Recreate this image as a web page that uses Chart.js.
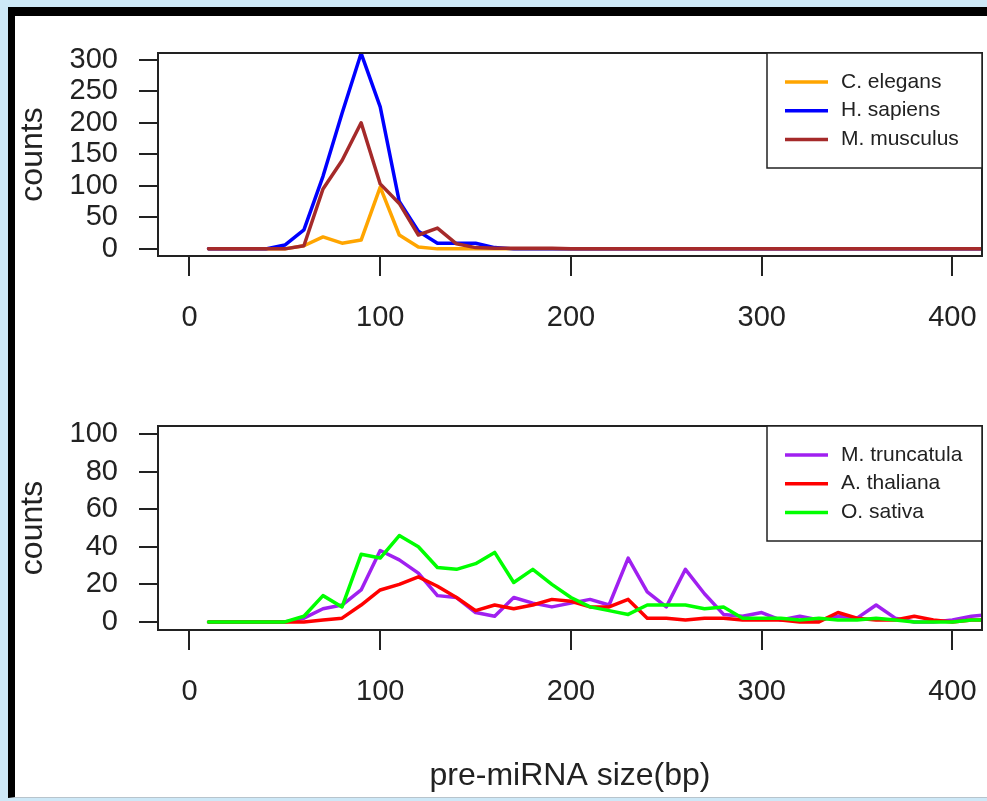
<!DOCTYPE html>
<html>
<head>
<meta charset="utf-8">
<script src="https://cdn.jsdelivr.net/npm/chart.js@4"></script>
<style>
  html, body { margin: 0; padding: 0; }
  body { width: 987px; height: 801px; background: #cde8f7; position: relative; overflow: hidden; }
  #frame {
    position: absolute; left: 8px; top: 7px; width: 990px; height: 781px;
    background: #fff; border-left: 7px solid #000; border-top: 9px solid #000;
    border-bottom: 1px solid #b8c4cc;
  }
  canvas { position: absolute; left: 0; }
  #topChart { top: 0; }
  #bottomChart { top: 373px; }
</style>
</head>
<body>
<div id="frame"></div>
<canvas id="topChart" width="987" height="373"></canvas>
<canvas id="bottomChart" width="987" height="428"></canvas>
<script>
// pre-miRNA size (bp), one point every 10 bp
const sizes = [10, 20, 30, 40, 50, 60, 70, 80, 90, 100, 110, 120, 130, 140, 150, 160, 170, 180, 190, 200,
  210, 220, 230, 240, 250, 260, 270, 280, 290, 300, 310, 320, 330, 340, 350, 360, 370, 380, 390, 400, 410, 420];

// animals
const cElegans = [0, 0, 0, 0, 0, 5, 19, 9, 14, 98, 22, 3, 0, 0, 0, 0, 0, 0, 0, 0,
  0, 0, 0, 0, 0, 0, 0, 0, 0, 0, 0, 0, 0, 0, 0, 0, 0, 0, 0, 0, 0, 0];
const hSapiens = [0, 0, 0, 0, 6, 30, 115, 215, 310, 225, 75, 28, 9, 9, 9, 2, 0, 0, 0, 0,
  0, 0, 0, 0, 0, 0, 0, 0, 0, 0, 0, 0, 0, 0, 0, 0, 0, 0, 0, 0, 0, 0];
const mMusculus = [0, 0, 0, 0, 0, 5, 95, 140, 200, 103, 72, 22, 33, 8, 2, 1, 1, 1, 1, 0,
  0, 0, 0, 0, 0, 0, 0, 0, 0, 0, 0, 0, 0, 0, 0, 0, 0, 0, 0, 0, 0, 0];

// plants
const mTruncatula = [0, 0, 0, 0, 0, 2, 7, 9, 17, 38, 33, 26, 14, 13, 5, 3, 13, 10, 8, 10,
  12, 9, 34, 16, 8, 28, 15, 4, 3, 5, 1, 3, 1, 3, 2, 9, 2, 0, 0, 1, 3, 4];
const aThaliana = [0, 0, 0, 0, 0, 0, 1, 2, 9, 17, 20, 24, 19, 13, 6, 9, 7, 9, 12, 11,
  8, 8, 12, 2, 2, 1, 2, 2, 1, 1, 1, 0, 0, 5, 2, 1, 1, 3, 1, 0, 1, 1];
const oSativa = [0, 0, 0, 0, 0, 3, 14, 8, 36, 34, 46, 40, 29, 28, 31, 37, 21, 28, 20, 13,
  8, 6, 4, 9, 9, 9, 7, 8, 2, 2, 2, 1, 2, 1, 1, 2, 1, 0, 0, 0, 1, 1];

const xTicks = [0, 100, 200, 300, 400];
const yTicksTop = [0, 50, 100, 150, 200, 250, 300];
const yTicksBottom = [0, 20, 40, 60, 80, 100];

const FONT = "'Liberation Sans', Arial, Helvetica, sans-serif";
const INK = '#222';

const toPoints = vals => sizes.map((s, i) => ({ x: s, y: vals[i] }));

const series = (label, vals, color, order) => ({
  label,
  data: toPoints(vals),
  borderColor: color,
  backgroundColor: color,
  borderWidth: 3.5,
  borderJoinStyle: 'round',
  borderCapStyle: 'round',
  pointRadius: 0,
  tension: 0,
  clip: 0,
  order
});

// plot box + R style legend in the top right corner
const boxAndLegend = {
  id: 'boxAndLegend',
  afterDraw(chart) {
    const { ctx, chartArea: a } = chart;
    ctx.save();
    ctx.strokeStyle = INK;
    ctx.lineWidth = 2;
    ctx.strokeRect(a.left, a.top, a.right - a.left, a.bottom - a.top);

    const w = 215, h = 115;
    const lx = a.right - w, ly = a.top;
    ctx.fillStyle = '#fff';
    ctx.fillRect(lx, ly, w, h);
    ctx.lineWidth = 1.5;
    ctx.strokeRect(lx, ly, w, h);

    ctx.font = '21px ' + FONT;
    ctx.textBaseline = 'middle';
    ctx.textAlign = 'left';
    chart.data.datasets.forEach((ds, i) => {
      const y = ly + 29 + i * 28.7;
      ctx.strokeStyle = ds.borderColor;
      ctx.lineWidth = 3.5;
      ctx.beginPath();
      ctx.moveTo(lx + 18, y);
      ctx.lineTo(lx + 61, y);
      ctx.stroke();
      ctx.fillStyle = INK;
      ctx.fillText(ds.label, lx + 74, y);
    });
    ctx.restore();
  }
};

function makeChart(id, datasets, yMin, yMax, yTicks, xAxisHeight, showXTitle) {
  return new Chart(document.getElementById(id), {
    type: 'line',
    data: { datasets },
    plugins: [boxAndLegend],
    options: {
      responsive: false,
      animation: false,
      devicePixelRatio: 1,
      layout: { padding: { top: 53, right: 5, left: 0, bottom: 0 } },
      plugins: { legend: { display: false }, tooltip: { enabled: false } },
      scales: {
        x: {
          type: 'linear',
          min: -16.5,
          max: 415.5,
          afterBuildTicks: s => { s.ticks = xTicks.map(v => ({ value: v })); },
          afterFit: s => { s.height = xAxisHeight; s.paddingLeft = 0; s.paddingRight = 0; },
          border: { display: false },
          grid: { drawOnChartArea: false, drawTicks: true, tickLength: 20, color: INK, lineWidth: 2 },
          ticks: {
            autoSkip: false, maxRotation: 0, padding: 25, color: INK,
            font: { family: FONT, size: 29 }
          },
          title: {
            display: showXTitle, text: 'pre-miRNA size(bp)', color: INK,
            font: { family: FONT, size: 32 }, padding: { top: 0, bottom: 6 }
          }
        },
        y: {
          min: yMin,
          max: yMax,
          afterBuildTicks: s => { s.ticks = yTicks.map(v => ({ value: v })); },
          afterFit: s => { s.width = 158; s.paddingTop = 0; s.paddingBottom = 0; },
          border: { display: false },
          grid: { drawOnChartArea: false, drawTicks: true, tickLength: 19, color: INK, lineWidth: 2 },
          ticks: {
            autoSkip: false, padding: 21, color: INK,
            font: { family: FONT, size: 29 }
          },
          title: {
            display: true, text: 'counts', color: INK,
            font: { family: FONT, size: 32 }, padding: { top: 14, bottom: 0 }
          }
        }
      }
    }
  });
}

makeChart('topChart', [
  series('C. elegans', cElegans, '#ffa500', 3),
  series('H. sapiens', hSapiens, '#0000ff', 2),
  series('M. musculus', mMusculus, '#a52a2a', 1)
], -11.3, 310.5, yTicksTop, 117, false);

makeChart('bottomChart', [
  series('M. truncatula', mTruncatula, '#a020f0', 3),
  series('A. thaliana', aThaliana, '#ff0000', 2),
  series('O. sativa', oSativa, '#00ff00', 1)
], -4.3, 104.3, yTicksBottom, 171, true);
</script>
</body>
</html>
